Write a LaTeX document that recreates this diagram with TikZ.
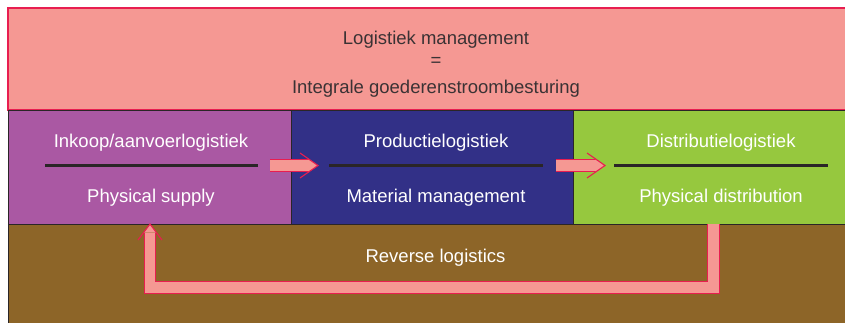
\documentclass[tikz,border=0pt]{standalone}
\usepackage{fontspec}
\setmainfont{Liberation Sans}
\usepackage{tikz}
\usetikzlibrary{positioning,calc}
\definecolor{toppink}{HTML}{F59893}
\definecolor{arrowpink}{HTML}{F59893}
\definecolor{redline}{HTML}{E81E50}
\definecolor{darkline}{HTML}{2A2527}
\definecolor{toptext}{HTML}{3A3234}
\definecolor{purplebox}{HTML}{AA58A3}
\definecolor{bluebox}{HTML}{323087}
\definecolor{greenbox}{HTML}{96C83E}
\definecolor{brownbox}{HTML}{8D6528}

\begin{document}
\begin{tikzpicture}[x=1pt,y=-1pt,line join=miter,
		font=\fontsize{18.5}{24.5}\selectfont]
		\tikzstyle{band}=[inner sep=0pt,outer sep=0pt,anchor=north west]
		\tikzstyle{box}=[band,draw=darkline,line width=1pt,minimum height=114pt]
		\tikzstyle{head}=[text=white,anchor=base,inner sep=0pt]
		\tikzstyle{title}=[text=toptext,anchor=base,inner sep=0pt]
		\tikzstyle{sepline}=[draw=darkline,line width=3pt]
		\tikzstyle{flow}=[draw=redline,line width=0.9pt,double=arrowpink,double distance=10.5pt]
		\tikzstyle{chevron}=[draw=redline,line width=1.1pt]
		
		\useasboundingbox (0,0) rectangle (845,322);
		\clip (-2,-2) rectangle (847,324);
		
		% bands
		\node[band,fill=toppink,draw=redline,line width=1.2pt,minimum width=880pt,minimum height=102pt] (logistiek) at (8,8) {};
		\node[band,fill=brownbox,draw=darkline,line width=1pt,minimum width=880pt,minimum height=120pt] (reverse) at (8,224) {};
		\node[box,fill=purplebox,minimum width=283pt] (inkoop) at (8,110) {};
		\node[box,fill=bluebox,minimum width=282pt,right=0pt of inkoop] (productie) {};
		\node[box,fill=greenbox,minimum width=300pt,right=0pt of productie] (distributie) {};
		
		% texts
		\node[title] (titel) at (436,44) {Logistiek management};
		\node[title] (gelijk) at (436,66) {=};
		\node[title] (integraal) at (436,93) {Integrale goederenstroombesturing};
		
		\node[head] (inkoop-kop) at (151,147) {Inkoop/aanvoerlogistiek};
		\node[head] (inkoop-sub) at (151,202) {Physical supply};
		\node[head] (productie-kop) at (436,147) {Productielogistiek};
		\node[head] (productie-sub) at (436,202) {Material management};
		\node[head] (distributie-kop) at (721,147) {Distributielogistiek};
		\node[head] (distributie-sub) at (721,202) {Physical distribution};
		\node[head] (reverse-kop) at (435.5,262) {Reverse logistics};
		
		% separators
		\coordinate (inkoop-l) at (45,165);
		\coordinate (inkoop-r) at (258,165);
		\coordinate (productie-l) at (329,165);
		\coordinate (productie-r) at (543,165);
		\coordinate (distributie-l) at (614,165);
		\coordinate (distributie-r) at (828,165);
		\draw[sepline] (inkoop-l) -- (inkoop-r);
		\draw[sepline] (productie-l) -- (productie-r);
		\draw[sepline] (distributie-l) -- (distributie-r);
		
		% flow arrows
		\coordinate (f1-start) at (270,165.5);
		\coordinate (f1-tip) at (318,165.5);
		\coordinate (f2-start) at (556,165.5);
		\coordinate (f2-tip) at (605,165.5);
		\draw[flow] (f1-start) -- ($(f1-tip)+(-9.5,0)$);
		\fill[arrowpink] (f1-tip) -- ++(-9.5,-6.6) -- ++(0,13.2) -- cycle;
		\draw[chevron] ($(f1-tip)+(-18,-12.5)$) -- (f1-tip) -- ($(f1-tip)+(-18,12.5)$);
		\draw[flow] (f2-start) -- ($(f2-tip)+(-9.5,0)$);
		\fill[arrowpink] (f2-tip) -- ++(-9.5,-6.6) -- ++(0,13.2) -- cycle;
		\draw[chevron] ($(f2-tip)+(-18,-12.5)$) -- (f2-tip) -- ($(f2-tip)+(-18,12.5)$);
		
		% return arrow
		\coordinate (r-start) at (distributie.south -| 713.5,0);
		\coordinate (r-tip) at (inkoop.south -| 150,0);
		\draw[flow] (r-start) |- ($(r-tip)+(0,63.5)$) -- ($(r-tip)+(0,8.5)$);
		\fill[arrowpink] (r-tip) -- ++(-6.4,8.5) -- ++(12.8,0) -- cycle;
		\draw[chevron] ($(r-tip)+(-12,16)$) -- (r-tip) -- ($(r-tip)+(12,16)$);
\end{tikzpicture}
\end{document}
